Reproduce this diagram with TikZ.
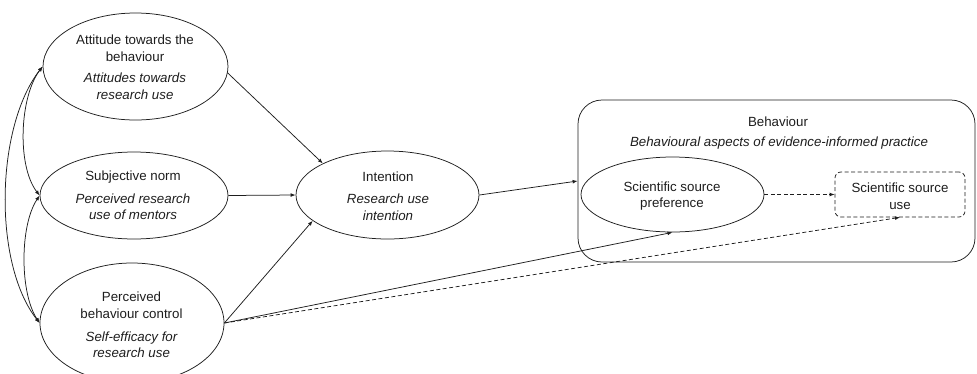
\documentclass[tikz,border=0pt]{standalone}
\usepackage{fontspec}
\setmainfont{Liberation Sans}
\usetikzlibrary{shapes.geometric,arrows.meta}
\definecolor{ink}{RGB}{30,30,30}
\tikzset{
  ell/.style={draw=ink, ellipse, inner sep=0pt, line width=0.75pt},
  txt/.style={align=center, inner sep=0pt, text=ink, font=\fontsize{13.3}{16.5}\selectfont},
  itxt/.style={txt, font=\fontsize{13.3}{16.5}\selectfont\itshape},
  con/.style={draw=ink, line width=0.75pt, -{Latex[length=5pt,width=3.8pt]}},
  dcon/.style={con, dash pattern=on 4pt off 2.5pt},
  dbl/.style={draw=ink, line width=0.75pt, {Latex[length=5pt,width=3.8pt]}-{Latex[length=5pt,width=3.8pt]}}
}
\begin{document}
\begin{tikzpicture}[x=1pt,y=-1pt]
\clip (0,0) rectangle (977,373);
\fill[white] (0,0) rectangle (977,373);
% left ellipses
\node[ell, minimum width=185pt, minimum height=107pt] (att) at (135.5,66.5) {};
\node[txt] (attA) at (135,48) {Attitude towards the\\behaviour};
\node[itxt] (attB) at (135,86) {Attitudes towards\\research use};
\node[ell, minimum width=188pt, minimum height=87pt] (sub) at (134,195.5) {};
\node[txt] (subA) at (133,177) {Subjective norm};
\node[itxt] (subB) at (133,206.5) {Perceived research\\use of mentors};
\node[ell, minimum width=184pt, minimum height=120pt] (perc) at (132,323) {};
\node[txt] (percA) at (131.5,305) {Perceived\\behaviour control};
\node[itxt] (percB) at (131.5,344.5) {Self-efficacy for\\research use};
% intention
\node[ell, minimum width=183pt, minimum height=88pt] (int) at (387.5,195) {};
\node[txt] (intA) at (388,177) {Intention};
\node[itxt] (intB) at (388,207) {Research use\\intention};
% behaviour box
\node[draw=ink, line width=0.75pt, rounded corners=24pt, minimum width=397pt, minimum height=162pt, inner sep=0pt] (beh) at (776.5,181) {};
\node[txt] (behA) at (778,122) {Behaviour};
\node[itxt] (behB) at (779,143) {Behavioural aspects of evidence-informed practice};
\node[ell, minimum width=183pt, minimum height=75pt] (pref) at (672.5,194.5) {};
\node[txt] (prefA) at (672,196) {Scientific source\\preference};
\node[draw=ink, line width=0.75pt, dash pattern=on 4pt off 2.5pt, rounded corners=6pt, minimum width=130pt, minimum height=45pt, inner sep=0pt] (use) at (900,194.5) {};
\node[txt] (useA) at (900,196) {Scientific source\\use};
% connectors
\draw[con] (att.-4.7) -- (int.154);
\draw[con] (sub.east) -- (int.west);
\draw[con] (perc.east) -- (int.199.7);
\draw[con] (int.east) -- (beh.west);
\draw[con] (perc.east) -- (pref.south);
\draw[dcon] (perc.east) -- (use.south);
\draw[dcon] (pref.east) -- (use.west);
% correlations
\draw[dbl] (att.west) .. controls +(-23,30) and +(-23,-30) .. (sub.west);
\draw[dbl] (sub.west) .. controls +(-20,30) and +(-20,-30) .. (perc.west);
\draw[dbl] (att.west) .. controls +(-47,60) and +(-47,-60) .. (perc.west);
\end{tikzpicture}
\end{document}
